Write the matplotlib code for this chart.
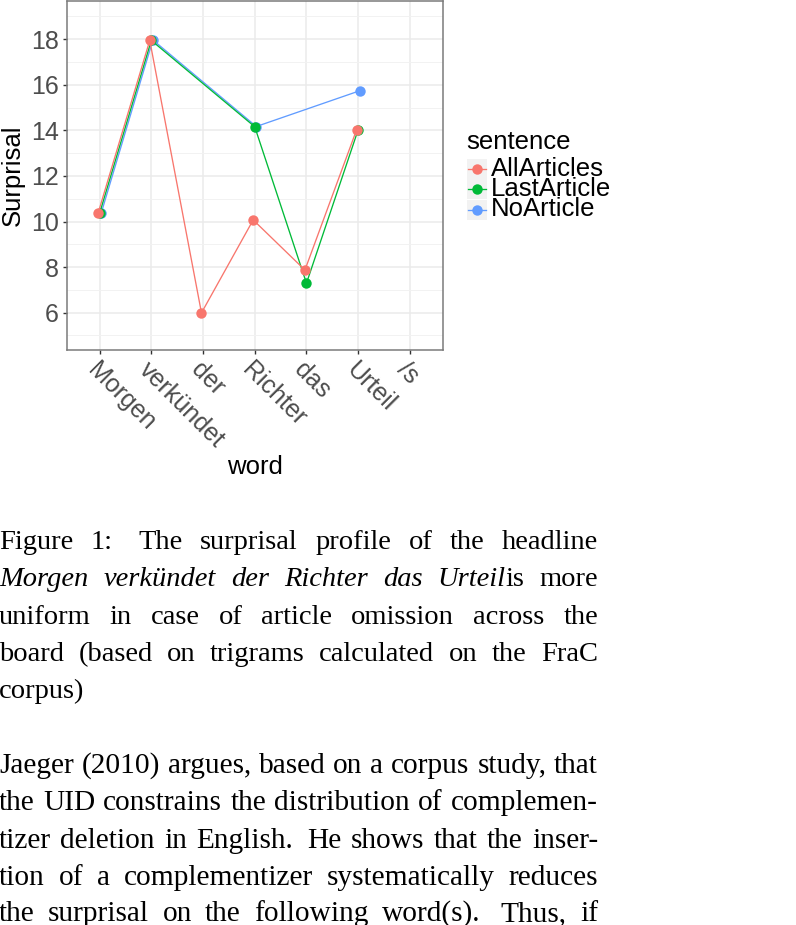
import numpy as np
import matplotlib
matplotlib.use("Agg")
import matplotlib.pyplot as plt
from matplotlib.lines import Line2D
from matplotlib.patches import Rectangle

W, H = 796, 925

# data
words = ["Morgen", "verkündet", "der", "Richter", "das", "Urteil", "/s"]
all_articles = [10.36, 17.95, 5.99, 10.07, 7.87, 14.03, np.nan]
last_article = [10.36, 17.95, np.nan, 14.16, 7.29, 14.03, np.nan]
no_article = [10.36, 17.97, np.nan, 14.17, np.nan, 15.74, np.nan]
series_names = ["AllArticles", "LastArticle", "NoArticle"]
series_colors = ["#F8766D", "#00BA38", "#619CFF"]
y_ticks = [6, 8, 10, 12, 14, 16, 18]

caption = [
    [[("Figure", "normal")], [("1:", "normal")], [("The", "normal")], [("surprisal", "normal")],
     [("profile", "normal")], [("of", "normal")], [("the", "normal")], [("headline", "normal")]],
    [[("Morgen", "italic")], [("verkündet", "italic")], [("der", "italic")], [("Richter", "italic")],
     [("das", "italic")], [("Urteil", "italic"), ("is", "normal")], [("more", "normal")]],
    "uniform in case of article omission across the",
    "board (based on trigrams calculated on the FraC",
    "corpus)",
]
body = [
    "Jaeger (2010) argues, based on a corpus study, that",
    "the UID constrains the distribution of complemen-",
    "tizer deletion in English. He shows that the inser-",
    "tion of a complementizer systematically reduces",
    "the surprisal on the following word(s). Thus, if",
]


def fx(x):
    return x / W


def fy(y):
    return 1 - y / H


plt.rcParams["font.family"] = ["Liberation Sans", "DejaVu Sans"]
fig = plt.figure(figsize=(W / 100, H / 100), dpi=100)

ax_l, ax_r, ax_t, ax_b = 66.5, 443, 1, 350
ax = fig.add_axes([fx(ax_l), fy(ax_b), (ax_r - ax_l) / W, (ax_b - ax_t) / H])

x = np.arange(len(words))
dodge = [-0.03, 0.0, 0.03]
order = [2, 1, 0]
for k in order:
    vals = np.array([all_articles, last_article, no_article][k], dtype=float)
    m = ~np.isnan(vals)
    ax.plot(x[m] + dodge[k], vals[m], color=series_colors[k], lw=0.95,
            marker="o", ms=7.5, mec="none", zorder=3 + (2 - k))

ax.set_xlim(-0.64, len(words) - 1 + 0.64)
ax.set_ylim(4.36, 19.68)
ax.set_xticks(x)
ax.set_xticklabels(words, rotation=-45, ha="left", va="top", rotation_mode="anchor")
ax.set_yticks(y_ticks)
ax.set_yticks(np.arange(5, 20, 2), minor=True)
ax.grid(which="major", color="#EBEBEB", lw=1.1)
ax.grid(which="minor", axis="y", color="#F2F2F2", lw=0.7)
ax.set_axisbelow(True)
ax.tick_params(axis="both", which="major", length=3, width=1, color="#333333",
               labelcolor="#4D4D4D", labelsize=18, pad=2.5)
ax.tick_params(axis="y", which="minor", length=0)
for sp in ax.spines.values():
    sp.set_color("#7A7A7A")
    sp.set_linewidth(1.1)

ax.set_xlabel("word", fontsize=18.5, va="center")
ax.xaxis.set_label_coords(0.5, (ax_b - 467) / (ax_b - ax_t))
ax.set_ylabel("Surprisal", fontsize=18.5, va="center", ha="center")
ax.yaxis.set_label_coords((12.5 - ax_l) / (ax_r - ax_l), 0.5)

# legend, ggplot style
fig.text(fx(466), fy(142), "sentence", fontsize=18.5, va="center", ha="left")
row_y = [168.5, 189, 209.5]
for k, name in enumerate(series_names):
    cy = row_y[k]
    fig.add_artist(Rectangle((fx(467), fy(cy + 10)), 20 / W, 20 / H,
                             transform=fig.transFigure, facecolor="#F2F2F2", edgecolor="none"))
    fig.add_artist(Line2D([fx(468), fx(486)], [fy(cy), fy(cy)], transform=fig.transFigure,
                          color=series_colors[k], lw=0.95))
    fig.add_artist(Line2D([fx(477)], [fy(cy)], transform=fig.transFigure, marker="o",
                          ms=7.5, mec="none", color=series_colors[k]))
    fig.text(fx(491), fy(cy), name, fontsize=18.5, va="center", ha="left")

# page text below the chart
renderer = fig.canvas.get_renderer()
LEFT, RIGHT = -1, 598


def as_words(line):
    if isinstance(line, str):
        return [[(w, "normal")] for w in line.split()]
    return line


def measure(s, style, size):
    t = fig.text(0, 0, s, fontsize=size, family="Liberation Serif", style=style)
    w = t.get_window_extent(renderer).width
    t.remove()
    return w


def set_line(line, baseline, size, justify=True):
    ws = as_words(line)
    widths = [[measure(s, st, size) for s, st in w] for w in ws]
    total = sum(sum(w) for w in widths)
    weights = []
    for w in ws[:-1]:
        last = w[-1][0]
        weights.append(1.5 if last[-1] in ".:" else 1.0)
    if justify and len(ws) > 1:
        unit = max((RIGHT - LEFT - total) / sum(weights), 2.0)
    else:
        unit = measure("a a", "normal", size) - measure("aa", "normal", size)
    xp = LEFT
    for i, w in enumerate(ws):
        for (s, st), sw in zip(w, widths[i]):
            fig.text(fx(xp), fy(baseline), s, fontsize=size, family="Liberation Serif",
                     style=st, va="baseline", ha="left", color="black")
            xp += sw
        if i < len(weights):
            xp += unit * weights[i]


cap_base = [549, 586.5, 623.5, 661, 698]
for i, line in enumerate(caption):
    set_line(line, cap_base[i], 20.5, justify=(i < len(caption) - 1))
body_base = [773, 810, 847.5, 885, 921]
for i, line in enumerate(body):
    set_line(line, body_base[i], 21.2, justify=True)

fig.savefig("out.png", dpi=100)
